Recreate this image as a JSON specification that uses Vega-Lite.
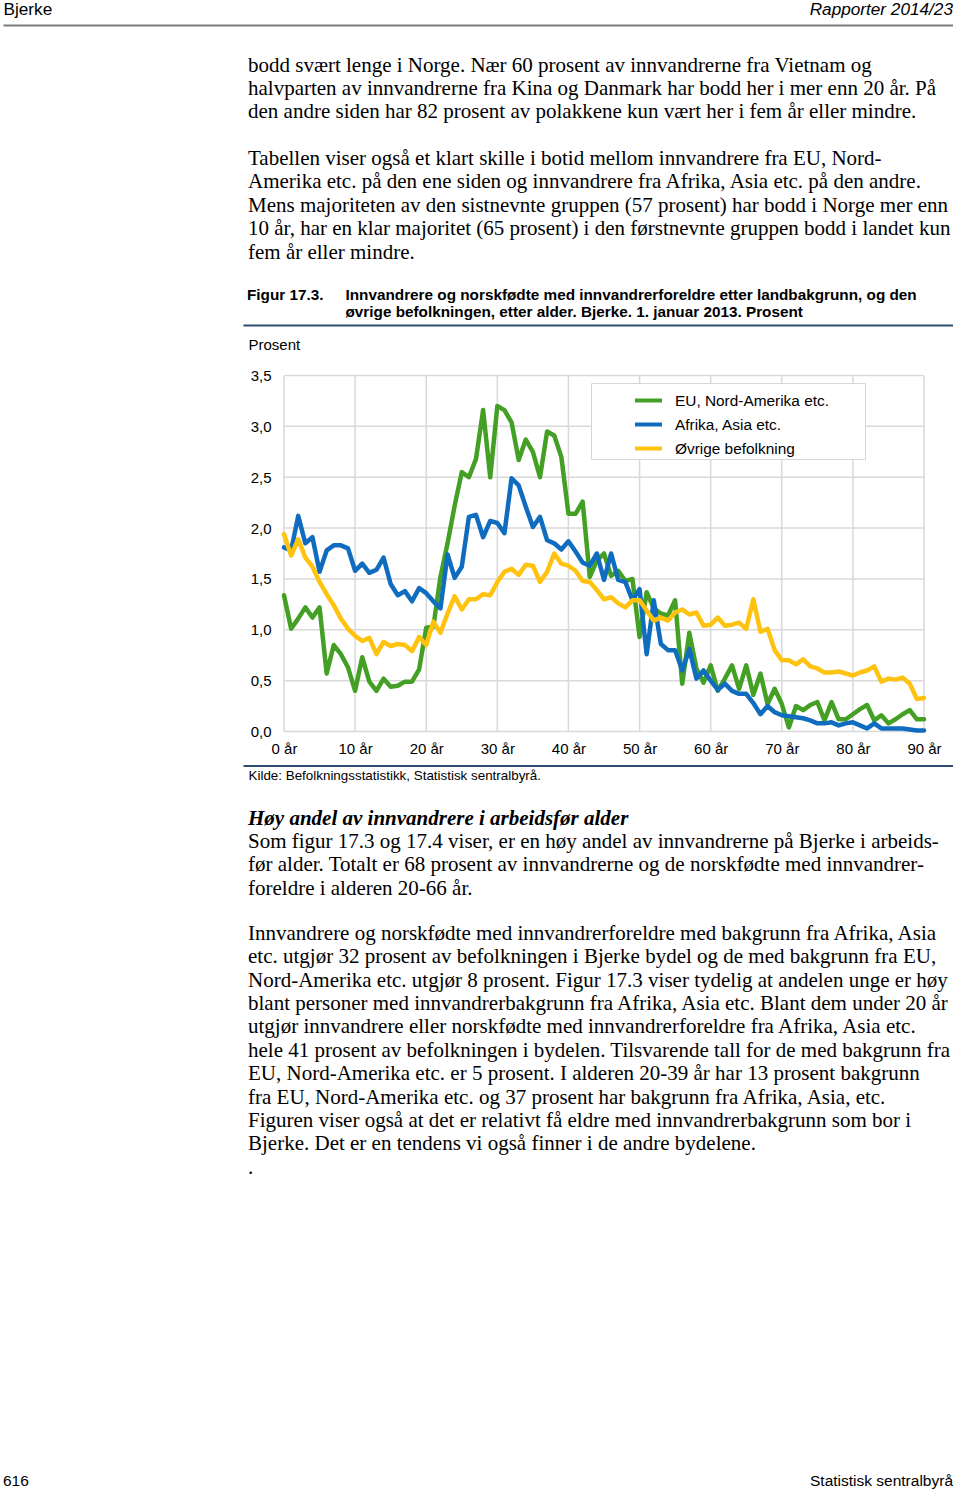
{
  "$schema": "https://vega.github.io/schema/vega-lite/v6.json",
  "autosize": {"type": "pad"},
  "padding": {"left": 3, "top": 0, "right": 0, "bottom": 0},
  "background": "white",
  "config": {
    "view": {"stroke": null},
    "font": "Liberation Sans",
    "axis": {"labelFont": "Liberation Sans", "titleFont": "Liberation Sans", "labelColor": "black", "titleColor": "black"},
    "title": {"color": "black", "fontWeight": "normal"}
  },
  "datasets": {
    "bef": [
      {"alder":0,"eu":1.34,"af":1.81,"ov":1.94},
      {"alder":1,"eu":1.01,"af":1.78,"ov":1.73},
      {"alder":2,"eu":1.11,"af":2.12,"ov":1.89},
      {"alder":3,"eu":1.22,"af":1.85,"ov":1.71},
      {"alder":4,"eu":1.12,"af":1.91,"ov":1.62},
      {"alder":5,"eu":1.22,"af":1.57,"ov":1.47},
      {"alder":6,"eu":0.57,"af":1.78,"ov":1.35},
      {"alder":7,"eu":0.85,"af":1.83,"ov":1.24},
      {"alder":8,"eu":0.76,"af":1.83,"ov":1.11},
      {"alder":9,"eu":0.63,"af":1.80,"ov":1.01},
      {"alder":10,"eu":0.40,"af":1.58,"ov":0.94},
      {"alder":11,"eu":0.73,"af":1.65,"ov":0.89},
      {"alder":12,"eu":0.49,"af":1.56,"ov":0.92},
      {"alder":13,"eu":0.40,"af":1.59,"ov":0.76},
      {"alder":14,"eu":0.52,"af":1.71,"ov":0.88},
      {"alder":15,"eu":0.44,"af":1.45,"ov":0.84},
      {"alder":16,"eu":0.45,"af":1.34,"ov":0.86},
      {"alder":17,"eu":0.49,"af":1.38,"ov":0.85},
      {"alder":18,"eu":0.49,"af":1.28,"ov":0.79},
      {"alder":19,"eu":0.61,"af":1.41,"ov":0.93},
      {"alder":20,"eu":1.02,"af":1.36,"ov":0.85},
      {"alder":21,"eu":1.03,"af":1.28,"ov":1.08},
      {"alder":22,"eu":1.52,"af":1.21,"ov":0.97},
      {"alder":23,"eu":1.85,"af":1.74,"ov":1.16},
      {"alder":24,"eu":2.22,"af":1.51,"ov":1.33},
      {"alder":25,"eu":2.55,"af":1.62,"ov":1.20},
      {"alder":26,"eu":2.50,"af":2.11,"ov":1.30},
      {"alder":27,"eu":2.68,"af":2.13,"ov":1.30},
      {"alder":28,"eu":3.16,"af":1.91,"ov":1.35},
      {"alder":29,"eu":2.50,"af":2.07,"ov":1.34},
      {"alder":30,"eu":3.20,"af":2.05,"ov":1.47},
      {"alder":31,"eu":3.16,"af":1.95,"ov":1.57},
      {"alder":32,"eu":3.04,"af":2.49,"ov":1.60},
      {"alder":33,"eu":2.67,"af":2.42,"ov":1.54},
      {"alder":34,"eu":2.87,"af":2.21,"ov":1.64},
      {"alder":35,"eu":2.75,"af":2.01,"ov":1.63},
      {"alder":36,"eu":2.50,"af":2.11,"ov":1.47},
      {"alder":37,"eu":2.95,"af":1.88,"ov":1.57},
      {"alder":38,"eu":2.91,"af":1.85,"ov":1.75},
      {"alder":39,"eu":2.70,"af":1.79,"ov":1.65},
      {"alder":40,"eu":2.14,"af":1.87,"ov":1.63},
      {"alder":41,"eu":2.14,"af":1.77,"ov":1.58},
      {"alder":42,"eu":2.26,"af":1.66,"ov":1.48},
      {"alder":43,"eu":1.52,"af":1.63,"ov":1.47},
      {"alder":44,"eu":1.68,"af":1.75,"ov":1.39},
      {"alder":45,"eu":1.75,"af":1.49,"ov":1.30},
      {"alder":46,"eu":1.53,"af":1.75,"ov":1.32},
      {"alder":47,"eu":1.58,"af":1.49,"ov":1.26},
      {"alder":48,"eu":1.48,"af":1.47,"ov":1.22},
      {"alder":49,"eu":1.50,"af":1.29,"ov":1.29},
      {"alder":50,"eu":0.93,"af":1.40,"ov":1.29},
      {"alder":51,"eu":1.37,"af":0.76,"ov":1.19},
      {"alder":52,"eu":1.21,"af":1.29,"ov":1.09},
      {"alder":53,"eu":1.16,"af":0.86,"ov":1.12},
      {"alder":54,"eu":1.14,"af":0.80,"ov":1.09},
      {"alder":55,"eu":1.29,"af":0.80,"ov":1.17},
      {"alder":56,"eu":0.47,"af":0.60,"ov":1.20},
      {"alder":57,"eu":0.97,"af":0.81,"ov":1.15},
      {"alder":58,"eu":0.62,"af":0.52,"ov":1.17},
      {"alder":59,"eu":0.48,"af":0.60,"ov":1.04},
      {"alder":60,"eu":0.65,"af":0.50,"ov":1.05},
      {"alder":61,"eu":0.40,"af":0.41,"ov":1.12},
      {"alder":62,"eu":0.52,"af":0.47,"ov":1.04},
      {"alder":63,"eu":0.65,"af":0.40,"ov":1.05},
      {"alder":64,"eu":0.42,"af":0.37,"ov":1.07},
      {"alder":65,"eu":0.65,"af":0.37,"ov":1.01},
      {"alder":66,"eu":0.36,"af":0.28,"ov":1.30},
      {"alder":67,"eu":0.57,"af":0.17,"ov":0.98},
      {"alder":68,"eu":0.27,"af":0.25,"ov":1.01},
      {"alder":69,"eu":0.42,"af":0.19,"ov":0.80},
      {"alder":70,"eu":0.27,"af":0.16,"ov":0.70},
      {"alder":71,"eu":0.04,"af":0.15,"ov":0.70},
      {"alder":72,"eu":0.25,"af":0.14,"ov":0.66},
      {"alder":73,"eu":0.21,"af":0.13,"ov":0.71},
      {"alder":74,"eu":0.26,"af":0.11,"ov":0.64},
      {"alder":75,"eu":0.29,"af":0.08,"ov":0.62},
      {"alder":76,"eu":0.11,"af":0.08,"ov":0.58},
      {"alder":77,"eu":0.29,"af":0.09,"ov":0.58},
      {"alder":78,"eu":0.12,"af":0.06,"ov":0.59},
      {"alder":79,"eu":0.12,"af":0.08,"ov":0.57},
      {"alder":80,"eu":0.17,"af":0.09,"ov":0.55},
      {"alder":81,"eu":0.22,"af":0.06,"ov":0.58},
      {"alder":82,"eu":0.26,"af":0.03,"ov":0.60},
      {"alder":83,"eu":0.11,"af":0.08,"ov":0.64},
      {"alder":84,"eu":0.16,"af":0.03,"ov":0.49},
      {"alder":85,"eu":0.08,"af":0.03,"ov":0.52},
      {"alder":86,"eu":0.12,"af":0.03,"ov":0.51},
      {"alder":87,"eu":0.17,"af":0.03,"ov":0.53},
      {"alder":88,"eu":0.21,"af":0.02,"ov":0.47},
      {"alder":89,"eu":0.12,"af":0.01,"ov":0.32},
      {"alder":90,"eu":0.12,"af":0.01,"ov":0.33}
    ],
    "rutenettAlder": [
      {"alder":0},{"alder":10},{"alder":20},{"alder":30},{"alder":40},
      {"alder":50},{"alder":60},{"alder":70},{"alder":80},{"alder":90}
    ],
    "rutenettAndel": [
      {"andel":0},{"andel":0.5},{"andel":1},{"andel":1.5},
      {"andel":2},{"andel":2.5},{"andel":3},{"andel":3.5}
    ]
  },
  "spacing": 0,
  "vconcat": [
    {
      "width": 950, "height": 25,
      "data": {"values": []},
      "mark": "text",
      "encoding": {
        "x": {"field": "side", "type": "quantitative", "scale": {"domain": [0, 1]},
              "axis": {"orient": "bottom", "domain": true, "domainColor": "#7a7a7a", "domainWidth": 2.2,
                       "labels": false, "ticks": false, "grid": false,
                       "title": "Bjerke", "titleX": 0, "titleY": -11, "titleAlign": "left", "titleAnchor": "start",
                       "titleBaseline": "alphabetic", "titleAngle": 0, "titleFontSize": 17.2, "titleFontWeight": "normal"}}
      },
      "title": {"text": "Rapporter 2014/23", "orient": "top", "anchor": "end", "frame": "group", "offset": -17.8,
                "font": "Liberation Sans", "fontSize": 17.2, "fontStyle": "italic", "fontWeight": "normal", "color": "black"}
    },
    {
      "width": 950, "height": 29.5,
      "data": {"values": []},
      "mark": "text",
      "title": {
        "text": [
          "bodd svært lenge i Norge. Nær 60 prosent av innvandrerne fra Vietnam og",
          "halvparten av innvandrerne fra Kina og Danmark har bodd her i mer enn 20 år. På",
          "den andre siden har 82 prosent av polakkene kun vært her i fem år eller mindre."
        ],
        "subtitle": [
          "Tabellen viser også et klart skille i botid mellom innvandrere fra EU, Nord-",
          "Amerika etc. på den ene siden og innvandrere fra Afrika, Asia etc. på den andre.",
          "Mens majoriteten av den sistnevnte gruppen (57 prosent) har bodd i Norge mer enn",
          "10 år, har en klar majoritet (65 prosent) i den førstnevnte gruppen bodd i landet kun",
          "fem år eller mindre."
        ],
        "orient": "bottom", "anchor": "start", "frame": "group", "dx": 245, "offset": 0, "baseline": "top",
        "font": "Liberation Serif", "fontSize": 21, "fontWeight": "normal", "color": "black", "lineHeight": 23.4,
        "subtitleFont": "Liberation Serif", "subtitleFontSize": 21, "subtitleFontWeight": "normal",
        "subtitleColor": "black", "subtitleLineHeight": 23.4, "subtitlePadding": 25.8
      }
    },
    {
      "width": 950, "height": 502.5,
      "title": {"text": "Figur 17.3.", "orient": "top", "anchor": "start", "frame": "group", "dx": 244, "offset": -40.5,
                "font": "Liberation Sans", "fontSize": 15.3, "fontWeight": "bold", "color": "black"},
      "resolve": {"axis": {"x": "independent", "y": "independent"}},
      "layer": [
        {
          "data": {"name": "rutenettAlder"},
          "mark": {"type": "rule", "stroke": "#d9d9d9", "strokeWidth": 1.5},
          "encoding": {
            "x": {"field": "alder", "type": "quantitative",
                  "scale": {"domain": [-5.7656, 94.3594], "range": [240, 952], "nice": false, "zero": false},
                  "axis": {"orient": "top", "offset": -62, "domain": true, "domainColor": "#2e4c6d", "domainWidth": 2,
                           "labels": false, "ticks": false, "grid": false,
                           "title": ["Innvandrere og norskfødte med innvandrerforeldre etter landbakgrunn, og den",
                                     "øvrige befolkningen, etter alder. Bjerke. 1. januar 2013. Prosent"],
                           "titleX": 342, "titleY": -26, "titleAlign": "left", "titleAnchor": "start", "titleBaseline": "alphabetic",
                           "titleAngle": 0, "titleFontSize": 15.3, "titleFontWeight": "bold", "titleLineHeight": 17, "titleLimit": 0}},
            "y": {"datum": 0, "type": "quantitative", "axis": null,
                  "scale": {"domain": [0, 3.5], "range": [468.5, 112.5], "nice": false, "zero": false}},
            "y2": {"datum": 3.5}
          }
        },
        {
          "data": {"name": "rutenettAndel"},
          "mark": {"type": "rule", "stroke": "#d9d9d9", "strokeWidth": 1.5},
          "encoding": {
            "y": {"field": "andel", "type": "quantitative",
                  "scale": {"domain": [0, 3.5], "range": [468.5, 112.5], "nice": false, "zero": false},
                  "axis": {"orient": "left", "offset": -268, "domain": false, "ticks": false, "tickSize": 0, "grid": false,
                           "values": [0, 0.5, 1, 1.5, 2, 2.5, 3, 3.5],
                           "labelExpr": "replace(format(datum.value, '.1f'), '.', ',')",
                           "labelPadding": 0, "labelFontSize": 15, "labelAlign": "right", "labelBaseline": "middle",
                           "title": "Prosent", "titleX": -23, "titleY": 81.5, "titleAngle": 0, "titleAlign": "left",
                           "titleBaseline": "middle", "titleFontSize": 15, "titleFontWeight": "normal"}},
            "x": {"datum": 0, "type": "quantitative", "axis": null,
                  "scale": {"domain": [-5.7656, 94.3594], "range": [240, 952], "nice": false, "zero": false}},
            "x2": {"datum": 90}
          }
        },
        {
          "data": {"name": "bef"},
          "transform": [{"fold": ["eu", "af", "ov"], "as": ["gruppe", "andel"]}],
          "mark": {"type": "line", "strokeWidth": 4.5, "strokeJoin": "round", "strokeCap": "round"},
          "encoding": {
            "x": {"field": "alder", "type": "quantitative",
                  "scale": {"domain": [-5.7656, 94.3594], "range": [240, 952], "nice": false, "zero": false},
                  "axis": {"orient": "bottom", "domain": true, "domainColor": "#2e4c6d", "domainWidth": 2,
                           "ticks": false, "tickSize": 0, "grid": false,
                           "values": [0, 10, 20, 30, 40, 50, 60, 70, 80, 90],
                           "labelExpr": "datum.value + ' år'", "labelPadding": -17, "labelBaseline": "middle",
                           "labelFontSize": 15, "labelFlush": false, "labelOverlap": false,
                           "title": "Kilde: Befolkningsstatistikk, Statistisk sentralbyrå.",
                           "titleX": 245, "titleY": 10, "titleAlign": "left", "titleAnchor": "start", "titleBaseline": "middle",
                           "titleAngle": 0, "titleFontSize": 13.4, "titleFontWeight": "normal", "titleLimit": 0}},
            "y": {"field": "andel", "type": "quantitative", "axis": null,
                  "scale": {"domain": [0, 3.5], "range": [468.5, 112.5], "nice": false, "zero": false}},
            "color": {"field": "gruppe", "type": "nominal",
                      "scale": {"domain": ["eu", "af", "ov"], "range": ["#44a024", "#0f6cbf", "#ffc20e"]},
                      "legend": {"orient": "none", "legendX": 588, "legendY": 383, "title": " ",
                                 "titleOrient": "right", "titlePadding": 34, "titleFontSize": 15,
                                 "fillColor": "white", "strokeColor": "#d6d6d6", "padding": 2,
                                 "symbolType": "stroke", "symbolStrokeWidth": 4, "symbolSize": 729, "symbolOffset": 40,
                                 "labelFontSize": 15.4, "labelFont": "Liberation Sans", "labelColor": "black",
                                 "labelOffset": 11, "rowPadding": 0, "labelLimit": 0,
                                 "labelExpr": "{'eu': 'EU, Nord-Amerika etc.', 'af': 'Afrika, Asia etc.', 'ov': 'Øvrige befolkning'}[datum.label]"}}
          }
        }
      ]
    },
    {
      "width": 950, "height": 25.5,
      "data": {"values": []},
      "mark": "text",
      "title": {
        "text": "Høy andel av innvandrere i arbeidsfør alder",
        "subtitle": [
          "Som figur 17.3 og 17.4 viser, er en høy andel av innvandrerne på Bjerke i arbeids-",
          "før alder. Totalt er 68 prosent av innvandrerne og de norskfødte med innvandrer-",
          "foreldre i alderen 20-66 år."
        ],
        "orient": "bottom", "anchor": "start", "frame": "group", "dx": 245, "offset": 0, "baseline": "top",
        "font": "Liberation Serif", "fontSize": 21, "fontWeight": "bold", "fontStyle": "italic", "color": "black",
        "subtitleFont": "Liberation Serif", "subtitleFontSize": 21, "subtitleFontWeight": "normal", "subtitleFontStyle": "normal",
        "subtitleColor": "black", "subtitleLineHeight": 23.4, "subtitlePadding": 2.5
      }
    },
    {
      "width": 950, "height": 23.8,
      "data": {"values": []},
      "mark": "text",
      "title": {
        "text": [
          "Innvandrere og norskfødte med innvandrerforeldre med bakgrunn fra Afrika, Asia",
          "etc. utgjør 32 prosent av befolkningen i Bjerke bydel og de med bakgrunn fra EU,",
          "Nord-Amerika etc. utgjør 8 prosent. Figur 17.3 viser tydelig at andelen unge er høy",
          "blant personer med innvandrerbakgrunn fra Afrika, Asia etc. Blant dem under 20 år",
          "utgjør innvandrere eller norskfødte med innvandrerforeldre fra Afrika, Asia etc.",
          "hele 41 prosent av befolkningen i bydelen. Tilsvarende tall for de med bakgrunn fra",
          "EU, Nord-Amerika etc. er 5 prosent.  I alderen 20-39 år har 13 prosent bakgrunn",
          "fra EU, Nord-Amerika etc. og 37 prosent har bakgrunn fra Afrika, Asia, etc.",
          "Figuren viser også at det er relativt få eldre med innvandrerbakgrunn som bor i",
          "Bjerke. Det er en tendens vi også finner i de andre bydelene.",
          "."
        ],
        "orient": "bottom", "anchor": "start", "frame": "group", "dx": 245, "offset": 0, "baseline": "top",
        "font": "Liberation Serif", "fontSize": 21, "fontWeight": "normal", "color": "black", "lineHeight": 23.4
      }
    },
    {
      "spacing": 0,
      "hconcat": [
        {
          "width": 475, "height": 296,
          "data": {"values": []},
          "mark": "text",
          "title": {"text": "616", "orient": "bottom", "anchor": "start", "frame": "group", "offset": 0, "baseline": "top",
                    "font": "Liberation Sans", "fontSize": 15.5, "fontWeight": "normal", "color": "black"}
        },
        {
          "width": 475, "height": 296,
          "data": {"values": []},
          "mark": "text",
          "title": {"text": "Statistisk sentralbyrå", "orient": "bottom", "anchor": "end", "frame": "group", "offset": 0, "baseline": "top",
                    "font": "Liberation Sans", "fontSize": 15.5, "fontWeight": "normal", "color": "black"}
        }
      ]
    }
  ]
}
